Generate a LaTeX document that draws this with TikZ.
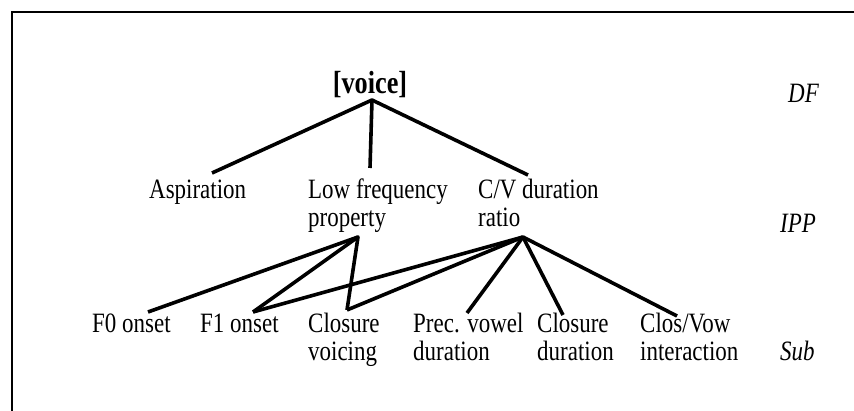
\documentclass[tikz,border=0pt]{standalone}
\usepackage{fontspec}
\setmainfont{Liberation Serif}[FakeStretch=0.82]
\begin{document}
\begin{tikzpicture}[x=1pt,y=-1pt,
  lbl/.style={inner sep=0pt, anchor=base west, align=left,
    font=\fontsize{28}{28}\selectfont},
  lvl/.style={inner sep=0pt, anchor=base west,
    font=\fontsize{28}{28}\selectfont\itshape},
  root/.style={inner sep=0pt, anchor=base,
    font=\fontsize{32}{32}\selectfont\bfseries},
  edge/.style={line width=3.6pt, line join=round},
  frame/.style={line width=2.6pt}]
\useasboundingbox (0,0) rectangle (854,411);
\fill[white] (0,0) rectangle (854,411);
\draw[frame] (12,411) -- (12,12) -- (854,12);

% distinctive feature
\node[root] (voice) at (370,94) {[voice]};
\node[lvl] (df) at (788,103) {DF};

% intermediate perceptual properties (two-line labels sit on their last line)
\node[lbl] (asp) at (149,199) {Aspiration};
\node[lbl] (lfp) at (308,227) {Low frequency\\property};
\node[lbl] (cv)  at (478,227) {C/V duration\\ratio};
\node[lvl] (ipp) at (780,233) {IPP};

% subproperties
\node[lbl] (f0)   at (92,333)  {F0 onset};
\node[lbl] (f1)   at (200,333) {F1 onset};
\node[lbl] (clv)  at (308,361) {Closure\\voicing};
\node[lbl] (pvd)  at (413,361) {Prec. vowel\\duration};
\node[lbl] (cld)  at (537,361) {Closure\\duration};
\node[lbl] (cvi)  at (640,361) {Clos/Vow\\interaction};
\node[lvl] (sub)  at (780,361) {Sub};

% attachment points of the branches
\coordinate (voice-b) at (372,100);
\coordinate (asp-t) at (212,173);
\coordinate (lfp-t) at (370,168);
\coordinate (cv-t)  at (528,175);
\coordinate (lfp-b) at (358,237);
\coordinate (cv-b)  at (523,237);
\coordinate (f0-t)  at (148,312);
\coordinate (f1-t)  at (253,312);
\coordinate (clv-t) at (347,310);
\coordinate (pvd-t) at (467,313);
\coordinate (cld-t) at (563,315);
\coordinate (cvi-t) at (677,316);

% upper tier
\draw[edge] (asp-t) -- (voice-b) -- (cv-t);
\draw[edge] (voice-b) -- (lfp-t);

% lower tier
\draw[edge] (f0-t) -- (lfp-b) -- (clv-t);
\draw[edge] (f1-t) -- (lfp-b);
\draw[edge] (f1-t) -- (cv-b);
\draw[edge] (clv-t) -- (cv-b);
\draw[edge] (pvd-t) -- (cv-b) -- (cvi-t);
\draw[edge] (cld-t) -- (cv-b);
\end{tikzpicture}
\end{document}
